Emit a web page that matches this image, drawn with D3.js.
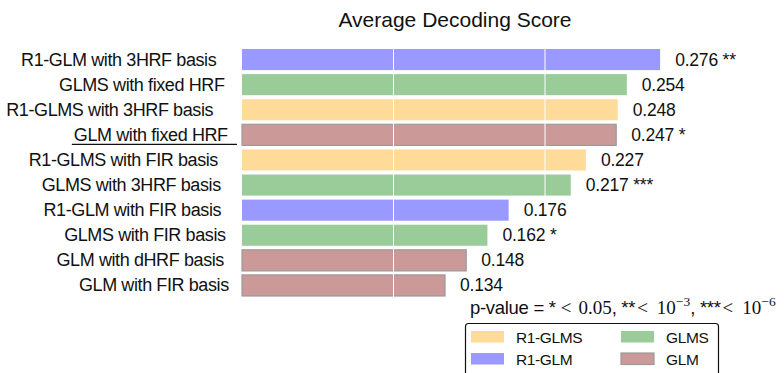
<!DOCTYPE html>
<html>
<head>
<meta charset="utf-8">
<script src="https://cdn.jsdelivr.net/npm/d3@7"></script>
<style>
  html, body { margin: 0; padding: 0; background: #fff; }
  svg { display: block; font-family: "Liberation Sans", Arial, sans-serif; }
</style>
</head>
<body>
<svg id="chart" width="784" height="373"></svg>
<script>
// Methods, top to bottom
const methods = [
  "R1-GLM with 3HRF basis",
  "GLMS with fixed HRF",
  "R1-GLMS with 3HRF basis",
  "GLM with fixed HRF",
  "R1-GLMS with FIR basis",
  "GLMS with 3HRF basis",
  "R1-GLM with FIR basis",
  "GLMS with FIR basis",
  "GLM with dHRF basis",
  "GLM with FIR basis"
];
const scores = [0.276, 0.254, 0.248, 0.247, 0.227, 0.217, 0.176, 0.162, 0.148, 0.134];
const significance = ["**", "", "", "*", "", "***", "", "*", "", ""];
const families = ["R1-GLM", "GLMS", "R1-GLMS", "GLM", "R1-GLMS", "GLMS", "R1-GLM", "GLMS", "GLM", "GLM"];
const baselineMethod = "GLM with fixed HRF";
const gridTicks = [0.1, 0.2];
const legendOrder = ["R1-GLMS", "GLMS", "R1-GLM", "GLM"];

const familyColor = d3.scaleOrdinal()
  .domain(["R1-GLMS", "GLMS", "R1-GLM", "GLM"])
  .range(["#ffdb99", "#99cc99", "#9999ff", "#cc9999"]);
const edgeColor = f => f === "GLM" ? "#9a9a9a" : "none";

const rows = methods.map((m, i) => ({
  method: m, score: scores[i], sig: significance[i], family: families[i]
}));

const svg = d3.select("#chart");

const x = d3.scaleLinear().domain([0, 0.2]).range([242, 545]);
const y = d3.scaleBand().domain(methods).range([47, 298])
  .paddingInner(0.16).paddingOuter(0.08);

// Title
svg.append("text")
  .attr("x", 455).attr("y", 27)
  .attr("text-anchor", "middle")
  .attr("font-size", 21)
  .attr("fill", "#111")
  .text("Average Decoding Score");

// Bars
svg.append("g").selectAll("rect").data(rows).join("rect")
  .attr("x", x(0))
  .attr("y", d => y(d.method))
  .attr("width", d => x(d.score) - x(0))
  .attr("height", y.bandwidth())
  .attr("fill", d => familyColor(d.family))
  .attr("stroke", d => edgeColor(d.family))
  .attr("stroke-width", 1.2);

// White vertical grid lines over the bars
svg.append("g").selectAll("line").data(gridTicks).join("line")
  .attr("x1", d => x(d)).attr("x2", d => x(d))
  .attr("y1", y.range()[0]).attr("y2", y.range()[1])
  .attr("stroke", "#fff").attr("stroke-width", 1);

// Value labels with significance stars
svg.append("g").selectAll("text").data(rows).join("text")
  .attr("x", d => x(d.score) + 15)
  .attr("y", d => y(d.method) + y.bandwidth() / 2 + 6)
  .attr("font-size", 17.5)
  .attr("letter-spacing", -0.2)
  .attr("fill", "#111")
  .text(d => d.sig ? `${d.score.toFixed(3)} ${d.sig}` : d.score.toFixed(3));

// Method labels on the left
const lab = svg.append("g").selectAll("text").data(rows).join("text")
  .attr("y", d => y(d.method) + y.bandwidth() / 2 + 6)
  .attr("font-size", 18)
  .attr("letter-spacing", -0.4)
  .attr("fill", "#111")
  .attr("text-anchor", "end")
  .text(d => d.method);
lab.each(function () {
  const w = this.getComputedTextLength();
  d3.select(this).attr("x", 270 - 0.275 * w);
});

// Underline the baseline method
const baseNode = lab.filter(d => d.method === baselineMethod).node();
const bb = baseNode.getBBox();
svg.append("line")
  .attr("x1", bb.x - 2).attr("x2", 237)
  .attr("y1", y(baselineMethod) + y.bandwidth() / 2 + 9.5)
  .attr("y2", y(baselineMethod) + y.bandwidth() / 2 + 9.5)
  .attr("stroke", "#111").attr("stroke-width", 1.2);

// p-value note: sans text mixed with serif math
const note = svg.append("text")
  .attr("x", 470).attr("y", 314)
  .attr("font-size", 18.5)
  .attr("letter-spacing", -0.3)
  .attr("fill", "#111");
const serif = "'Liberation Serif', 'DejaVu Serif', serif";
const math = (t, dx) => note.append("tspan")
  .attr("font-family", serif).attr("font-size", 19).attr("letter-spacing", 0)
  .attr("dx", dx).text(t);
const sup = t => note.append("tspan")
  .attr("font-family", serif).attr("font-size", 13.5).attr("letter-spacing", 0)
  .attr("dy", -8).text(t);
note.append("tspan").text("p-value = *");
math("<", 5); math("0.05", 7);
note.append("tspan").text(", **");
math("<", 2); math("10", 9); sup("−3");
note.append("tspan").attr("dy", 8).text(", ***");
math("<", 2); math("10", 9); sup("−6");

// Legend
const legend = svg.append("g");
legend.append("rect")
  .attr("x", 465.5).attr("y", 323.5)
  .attr("width", 253).attr("height", 70)
  .attr("rx", 3)
  .attr("fill", "#fff").attr("stroke", "#111").attr("stroke-width", 1.2);
const item = legend.selectAll("g.item").data(legendOrder).join("g")
  .attr("class", "item")
  .attr("transform", (d, i) => `translate(${471 + (i % 2) * 150},${331 + Math.floor(i / 2) * 22})`);
item.append("rect")
  .attr("width", 33).attr("height", 11.5)
  .attr("fill", d => familyColor(d))
  .attr("stroke", d => edgeColor(d)).attr("stroke-width", 1.2);
item.append("text")
  .attr("x", 45).attr("y", 11.5)
  .attr("font-size", 15.5)
  .attr("letter-spacing", -0.4)
  .attr("fill", "#111")
  .text(d => d);
</script>
</body>
</html>
